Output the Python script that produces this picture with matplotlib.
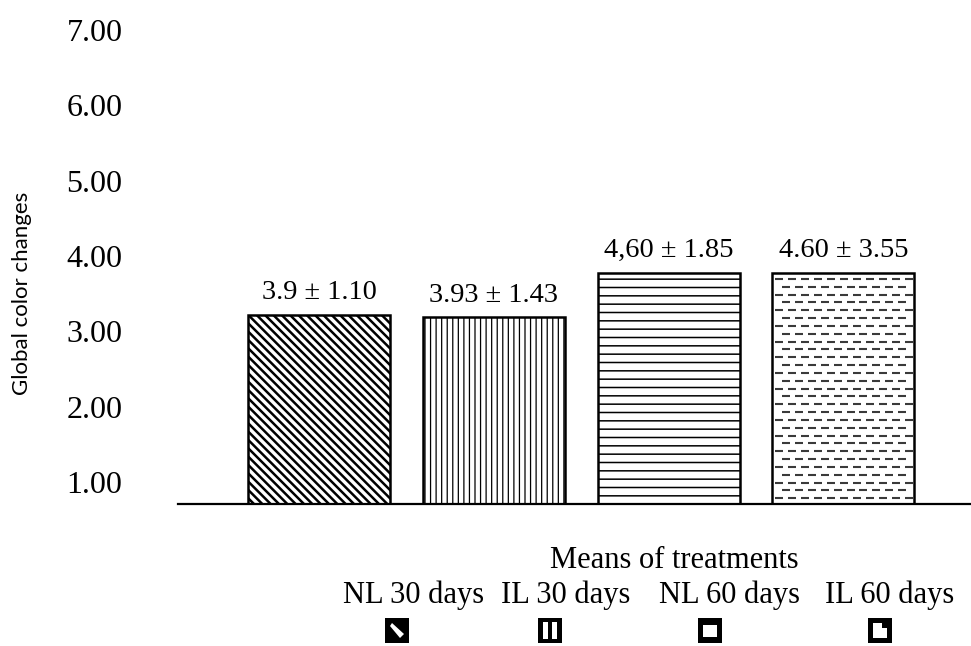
import matplotlib
matplotlib.use("Agg")
import matplotlib.pyplot as plt
from matplotlib.patches import Rectangle, Polygon
import numpy as np

# ---- data ----
categories = ["NL 30 days", "IL 30 days", "NL 60 days", "IL 60 days"]
bar_heights = [3.22, 3.19, 3.78, 3.78]
annotations = ["3.9 \u00b1 1.10", "3.93 \u00b1 1.43", "4,60 \u00b1 1.85", "4.60 \u00b1 3.55"]
yticks = [1, 2, 3, 4, 5, 6, 7]
ytick_labels = ["1.00", "2.00", "3.00", "4.00", "5.00", "6.00", "7.00"]
hatches = ["\\\\\\\\", "|||", "--", ""]
hatch_lw = [1.8, 0.9, 1.1, 1.0]

SERIF = ["Liberation Serif", "DejaVu Serif"]
plt.rcParams["hatch.linewidth"] = 1.3

W, H = 971, 646
fig = plt.figure(figsize=(W / 100, H / 100), dpi=100)

ylo, yhi = 0.708, 7.3
ax = fig.add_axes([178 / W, 1 - 504 / H, 1 - 178 / W, (504 - 7.4) / H])
ax.set_ylim(ylo, yhi)
ax.set_xlim(-0.807, 3.73)

x = np.arange(len(categories))
bw = 0.813
bars = ax.bar(x, bar_heights, width=bw, color="white", edgecolor="black",
              linewidth=1.8, zorder=2)
for b, h, lw in zip(bars, hatches, hatch_lw):
    if h:
        b.set_hatch(h)
        try:
            b.set_hatch_linewidth(lw)
        except Exception:
            pass

# dashed pattern for the last bar
b4 = bars[3]
x0, x1 = b4.get_x(), b4.get_x() + b4.get_width()
top = b4.get_height()
dx = bw / 11.0
dy = 0.104
yy = top - dy * 0.8
row = 0
while yy > ylo + 0.03:
    off = (dx / 2) if row % 2 else 0.0
    xs = np.arange(x0 + dx * 0.55 + off, x1 - dx * 0.3, dx)
    ax.plot(xs, np.full_like(xs, yy), ls="none", marker="_", ms=5.5,
            mew=1.5, color="#3a3a3a", zorder=3, clip_on=True)
    yy -= dy
    row += 1

for xi, hgt, txt in zip(x, bar_heights, annotations):
    ax.annotate(txt, (xi, hgt), xytext=(0, 11), textcoords="offset points",
                ha="center", va="baseline", fontsize=20.5, family=SERIF)

ax.set_yticks(yticks)
ax.set_yticklabels(ytick_labels, family=SERIF, fontsize=23)
ax.tick_params(axis="y", length=0, pad=40)
ax.set_xticks([])
for s in ["left", "right", "top"]:
    ax.spines[s].set_visible(False)
ax.spines["bottom"].set_linewidth(1.6)
ax.spines["bottom"].set_zorder(4)

fig.text(22 / W, 1 - 293 / H, "Global color changes", rotation=90,
         ha="center", va="center", fontsize=16, family=["Lato", "DejaVu Sans"])

def fx(px):
    return px / W

def fy(py):
    return 1 - py / H

fig.text(fx(674), fy(568), "Means of treatments", ha="center", va="baseline",
         fontsize=22, family=SERIF)

label_centers = [414, 566, 729, 890]
for cx, lab in zip(label_centers, categories):
    fig.text(fx(cx), fy(603), lab, ha="center", va="baseline",
             fontsize=22, family=SERIF)

# small legend icons
icon_lefts = [385, 538, 698, 868]
iw, ih, itop = 24, 25, 618
for k, lx in enumerate(icon_lefts):
    fig.add_artist(Rectangle((fx(lx), fy(itop + ih)), iw / W, ih / H,
                             transform=fig.transFigure, facecolor="black",
                             edgecolor="none"))
    m = 5
    if k == 0:
        pts = [(lx + m + 2, itop + m), (lx + iw - m, itop + ih - m - 4),
               (lx + iw - m - 4, itop + ih - m), (lx + m, itop + m + 3)]
        fig.add_artist(Polygon([(fx(a), fy(b)) for a, b in pts],
                               transform=fig.transFigure, facecolor="white",
                               edgecolor="none"))
    elif k == 1:
        for sx in (lx + 5, lx + 14):
            fig.add_artist(Rectangle((fx(sx), fy(itop + ih - 4)), 5 / W, (ih - 8) / H,
                                     transform=fig.transFigure, facecolor="white",
                                     edgecolor="none"))
    elif k == 2:
        fig.add_artist(Rectangle((fx(lx + 5), fy(itop + ih - 6)), (iw - 10) / W, (ih - 13) / H,
                                 transform=fig.transFigure, facecolor="white",
                                 edgecolor="none"))
    else:
        pts = [(lx + 5, itop + 5), (lx + 14, itop + 5), (lx + 14, itop + 10),
               (lx + 19, itop + 10), (lx + 19, itop + ih - 5), (lx + 5, itop + ih - 5)]
        fig.add_artist(Polygon([(fx(a), fy(b)) for a, b in pts],
                               transform=fig.transFigure, facecolor="white",
                               edgecolor="none"))

fig.savefig("out.png", dpi=100, facecolor="white")
